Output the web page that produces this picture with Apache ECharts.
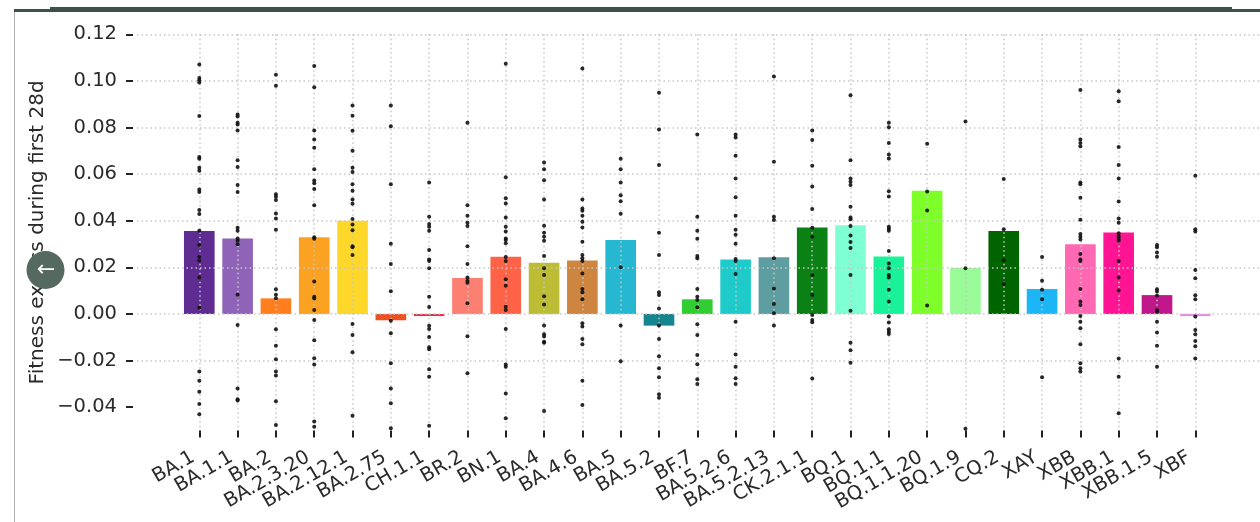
<!DOCTYPE html>
<html>
<head>
<meta charset="utf-8">
<style>
  html, body { margin: 0; padding: 0; background: #fff; }
  #chart { width: 1260px; height: 522px; }
</style>
<script src="https://cdn.jsdelivr.net/npm/echarts@6/dist/echarts.min.js"></script>
</head>
<body>
<div id="chart"></div>
<script>
const lineages = ['BA.1', 'BA.1.1', 'BA.2', 'BA.2.3.20', 'BA.2.12.1', 'BA.2.75', 'CH.1.1', 'BR.2', 'BN.1', 'BA.4', 'BA.4.6', 'BA.5', 'BA.5.2', 'BF.7', 'BA.5.2.6', 'BA.5.2.13', 'CK.2.1.1', 'BQ.1', 'BQ.1.1', 'BQ.1.1.20', 'BQ.1.9', 'CQ.2', 'XAY', 'XBB', 'XBB.1', 'XBB.1.5', 'XBF'];

const meanFitness = [0.0356, 0.0324, 0.0067, 0.0329, 0.04, -0.0027, -0.0009, 0.0154, 0.0246, 0.022, 0.0229, 0.0317, -0.005, 0.0063, 0.0234, 0.0243, 0.0371, 0.0381, 0.0247, 0.0529, 0.0197, 0.0356, 0.0107, 0.0299, 0.035, 0.0081, -0.0009];

const barColors = ['#5f2d91', '#8e63b8', '#ff7f1e', '#fba223', '#fdd72a', '#f04f20', '#dc3545', '#fb8072', '#ff6347', '#bcbd35', '#cd853f', '#25b8d0', '#15868e', '#32cd32', '#1fcacb', '#5f9ea0', '#0b8014', '#7fffd4', '#1af29a', '#7fff2a', '#98fb98', '#006400', '#1cb5f5', '#ff69b4', '#ff1493', '#c0188a', '#ee82ee'];

// one list of sample dots per lineage, same order as above
const sampleDots = [
  [0.107, 0.1013, 0.1003, 0.0993, 0.0849, 0.0674, 0.0666, 0.0627, 0.0614, 0.0534, 0.0523, 0.0446, 0.0429, 0.0357, 0.0296, 0.0246, 0.0229, 0.0157, 0.0027, -0.0247, -0.0286, -0.0334, -0.0386, -0.043],
  [0.0856, 0.0847, 0.082, 0.0813, 0.0787, 0.066, 0.0631, 0.0553, 0.0523, 0.037, 0.0357, 0.0324, 0.0314, 0.0299, 0.0083, -0.0047, -0.032, -0.0366, -0.0371],
  [0.1026, 0.0979, 0.0514, 0.0503, 0.0489, 0.0431, 0.041, 0.0361, 0.0106, 0.0083, 0.0067, -0.0066, -0.0136, -0.0194, -0.0247, -0.0264, -0.0374, -0.0476],
  [0.1064, 0.0973, 0.0787, 0.0749, 0.0713, 0.0621, 0.0573, 0.0561, 0.0536, 0.0466, 0.0329, 0.0323, 0.0139, 0.0074, 0.0066, 0.0017, -0.0026, -0.0113, -0.019, -0.0217, -0.0461, -0.0484],
  [0.0894, 0.0851, 0.0786, 0.07, 0.0627, 0.0609, 0.0557, 0.0529, 0.0491, 0.0473, 0.0407, 0.0384, 0.0359, 0.0291, 0.0286, 0.0253, -0.0043, -0.009, -0.0164, -0.0437],
  [0.0894, 0.0806, 0.0557, 0.0301, 0.0214, 0.0097, -0.0029, -0.0083, -0.0211, -0.032, -0.0383, -0.049],
  [0.0564, 0.0417, 0.0386, 0.0374, 0.0357, 0.0274, 0.0234, 0.0227, 0.0196, 0.0074, 0.003, -0.0051, -0.0064, -0.0099, -0.0143, -0.0151, -0.0237, -0.0269, -0.048],
  [0.0821, 0.0466, 0.0421, 0.0391, 0.0377, 0.0291, 0.0214, 0.0156, 0.0143, 0.0134, 0.0046, -0.0096, -0.0254],
  [0.1074, 0.0587, 0.0496, 0.0474, 0.0414, 0.0374, 0.0354, 0.0324, 0.0317, 0.0303, 0.0244, 0.0227, 0.0149, 0.0121, 0.0031, 0.0017, -0.0064, -0.0217, -0.0226, -0.0341, -0.0447],
  [0.065, 0.0621, 0.0574, 0.0491, 0.0379, 0.0349, 0.0331, 0.0314, 0.0249, 0.0196, 0.0167, 0.0076, 0.0041, -0.005, -0.0087, -0.0097, -0.0119, -0.0123, -0.0416],
  [0.1053, 0.0491, 0.0453, 0.0443, 0.0421, 0.0396, 0.0371, 0.031, 0.0253, 0.0239, 0.0227, 0.0174, 0.0107, 0.0093, 0.0063, -0.004, -0.0054, -0.0107, -0.013, -0.0286, -0.0391],
  [0.0666, 0.0621, 0.0564, 0.0509, 0.0484, 0.043, 0.02, -0.005, -0.0203],
  [0.0949, 0.0791, 0.0639, 0.0349, 0.0253, 0.0093, 0.0081, 0.0023, -0.005, -0.0107, -0.0181, -0.0233, -0.0271, -0.0344, -0.036],
  [0.077, 0.0417, 0.0357, 0.0323, 0.0249, 0.0239, 0.0107, 0.0074, 0.006, 0.0029, -0.0044, -0.009, -0.0176, -0.0216, -0.028, -0.03],
  [0.077, 0.0757, 0.0679, 0.0581, 0.0501, 0.0421, 0.0361, 0.034, 0.0301, 0.0236, 0.0227, 0.0171, -0.0033, -0.0174, -0.0226, -0.0276, -0.03],
  [0.1019, 0.0653, 0.0417, 0.0403, 0.0239, 0.0109, 0.0043, 0.0003, -0.005],
  [0.0787, 0.0746, 0.0636, 0.0547, 0.045, 0.037, 0.0331, 0.0167, 0.0081, -0.0004, -0.0026, -0.0036, -0.0277],
  [0.0939, 0.066, 0.0581, 0.0567, 0.0553, 0.046, 0.0414, 0.0406, 0.0377, 0.0337, 0.0309, 0.0283, 0.0167, 0.0014, -0.0124, -0.0156, -0.0209],
  [0.0821, 0.0801, 0.0734, 0.0684, 0.0667, 0.0527, 0.0504, 0.0374, 0.0366, 0.0357, 0.027, 0.0217, 0.0196, 0.0167, 0.0157, 0.0104, 0.0053, -0.0011, -0.0037, -0.0066, -0.0076, -0.0086],
  [0.073, 0.0526, 0.0444, 0.0036],
  [0.0826, 0.0196, -0.0493],
  [0.0579, 0.0363, 0.023, 0.0129],
  [0.0244, 0.0143, 0.0104, 0.0063, -0.0271],
  [0.0961, 0.0749, 0.0734, 0.072, 0.0564, 0.0557, 0.0499, 0.0404, 0.0343, 0.0331, 0.032, 0.0257, 0.0234, 0.0227, 0.0107, 0.0053, 0.0039, -0.0009, -0.0033, -0.0061, -0.013, -0.0211, -0.0233, -0.0247],
  [0.0956, 0.0913, 0.0716, 0.0639, 0.0581, 0.0483, 0.041, 0.0391, 0.0346, 0.0334, 0.0323, 0.0314, 0.0227, 0.0156, 0.0101, -0.0191, -0.0269, -0.0426],
  [0.0296, 0.0286, 0.0264, 0.0246, 0.0106, 0.0096, 0.0079, 0.0017, 0.001, -0.0033, -0.0079, -0.0136, -0.0226],
  [0.0593, 0.0363, 0.0354, 0.0189, 0.0153, 0.008, 0.0063, -0.0011, -0.0069, -0.0087, -0.0116, -0.0139, -0.0191]
];

const yTicks = [-0.04, -0.02, 0, 0.02, 0.04, 0.06, 0.08, 0.1, 0.12];

const font = '"DejaVu Sans"';
const gridLine = { show: true, lineStyle: { color: '#c6c6c6', width: 1.5, type: [1.5, 3] } };

let chart = echarts.init(document.getElementById('chart'), null, { renderer: 'canvas' });

let dots = [];
sampleDots.forEach((list, i) => {
  list.forEach(v => dots.push([lineages[i], v]));
});

chart.setOption({
  backgroundColor: '#fff',
  animation: false,
  grid: [
    // long horizontal rules, runs past the bars up to the page edge
    { left: 137, right: 0, top: 34.3, height: 419.5 },
    // bars and dots, first and last category sit on the grid edges
    { left: 199.3, width: 996, top: 34.3, height: 396.2 }
  ],
  xAxis: [
    { gridIndex: 0, type: 'value', show: false, min: 0, max: 1 },
    {
      gridIndex: 1,
      type: 'category',
      data: lineages,
      boundaryGap: false,
      z: 3,
      axisLine: { show: false, onZero: false },
      axisTick: { show: true, length: 7, lineStyle: { color: '#222', width: 2 } },
      splitLine: Object.assign({ interval: 0 }, gridLine),
      axisLabel: { interval: 0, rotate: 30, margin: 22, padding: [0, 7, 0, 0], color: '#2a2a2a', fontFamily: font, fontSize: 19.5 }
    }
  ],
  yAxis: [
    {
      gridIndex: 0,
      type: 'value',
      min: -0.06,
      max: 0.12,
      interval: 0.02,
      offset: 4,
      z: 3,
      axisLine: { show: false, onZero: false },
      axisTick: { show: true, length: 7, customValues: yTicks, lineStyle: { color: '#222', width: 2 } },
      splitLine: Object.assign({ showMinLine: false }, gridLine),
      axisLabel: {
        customValues: yTicks,
        margin: 16,
        color: '#2a2a2a',
        fontFamily: font,
        fontSize: 19.5,
        formatter: v => v.toFixed(2).replace('-', '\u2212')
      }
    },
    {
      gridIndex: 1,
      type: 'value',
      min: -0.05,
      max: 0.12,
      name: 'Fitness excess during first 28d',
      nameLocation: 'middle',
      nameGap: 152,
      nameTextStyle: { color: '#2a2a2a', fontFamily: font, fontSize: 20 },
      axisLine: { show: false, onZero: false },
      axisTick: { show: false },
      axisLabel: { show: false },
      splitLine: { show: false }
    }
  ],
  series: [
    {
      type: 'bar',
      xAxisIndex: 1,
      yAxisIndex: 1,
      barWidth: '80%',
      clip: false,
      z: 2,
      data: meanFitness.map((v, i) => ({ value: v, itemStyle: { color: barColors[i] } }))
    },
    {
      type: 'scatter',
      xAxisIndex: 1,
      yAxisIndex: 1,
      symbolSize: 4,
      z: 5,
      itemStyle: { color: '#111', opacity: 0.9 },
      data: dots
    }
  ],
  // screenshot leftovers: header band, page frame, back button
  graphic: [
    { type: 'rect', z: 20, shape: { x: 50, y: 7, width: 1182, height: 5 }, style: { fill: '#3f504a' } },
    { type: 'rect', z: 20, shape: { x: 14, y: 9, width: 36, height: 3 }, style: { fill: '#3f504a' } },
    { type: 'rect', z: 20, shape: { x: 1232, y: 9, width: 28, height: 3 }, style: { fill: '#3f504a' } },
    { type: 'rect', z: 20, shape: { x: 14, y: 12, width: 1, height: 510 }, style: { fill: '#b0b0b0' } },
    { type: 'circle', z: 20, shape: { cx: 45.5, cy: 270, r: 19 }, style: { fill: '#56695f' } },
    { type: 'text', z: 21, x: 46, y: 270, style: { text: '\u2190', fill: '#fff', font: '22px "DejaVu Sans"', textAlign: 'center', textVerticalAlign: 'middle' } }
  ]
});
</script>
</body>
</html>
